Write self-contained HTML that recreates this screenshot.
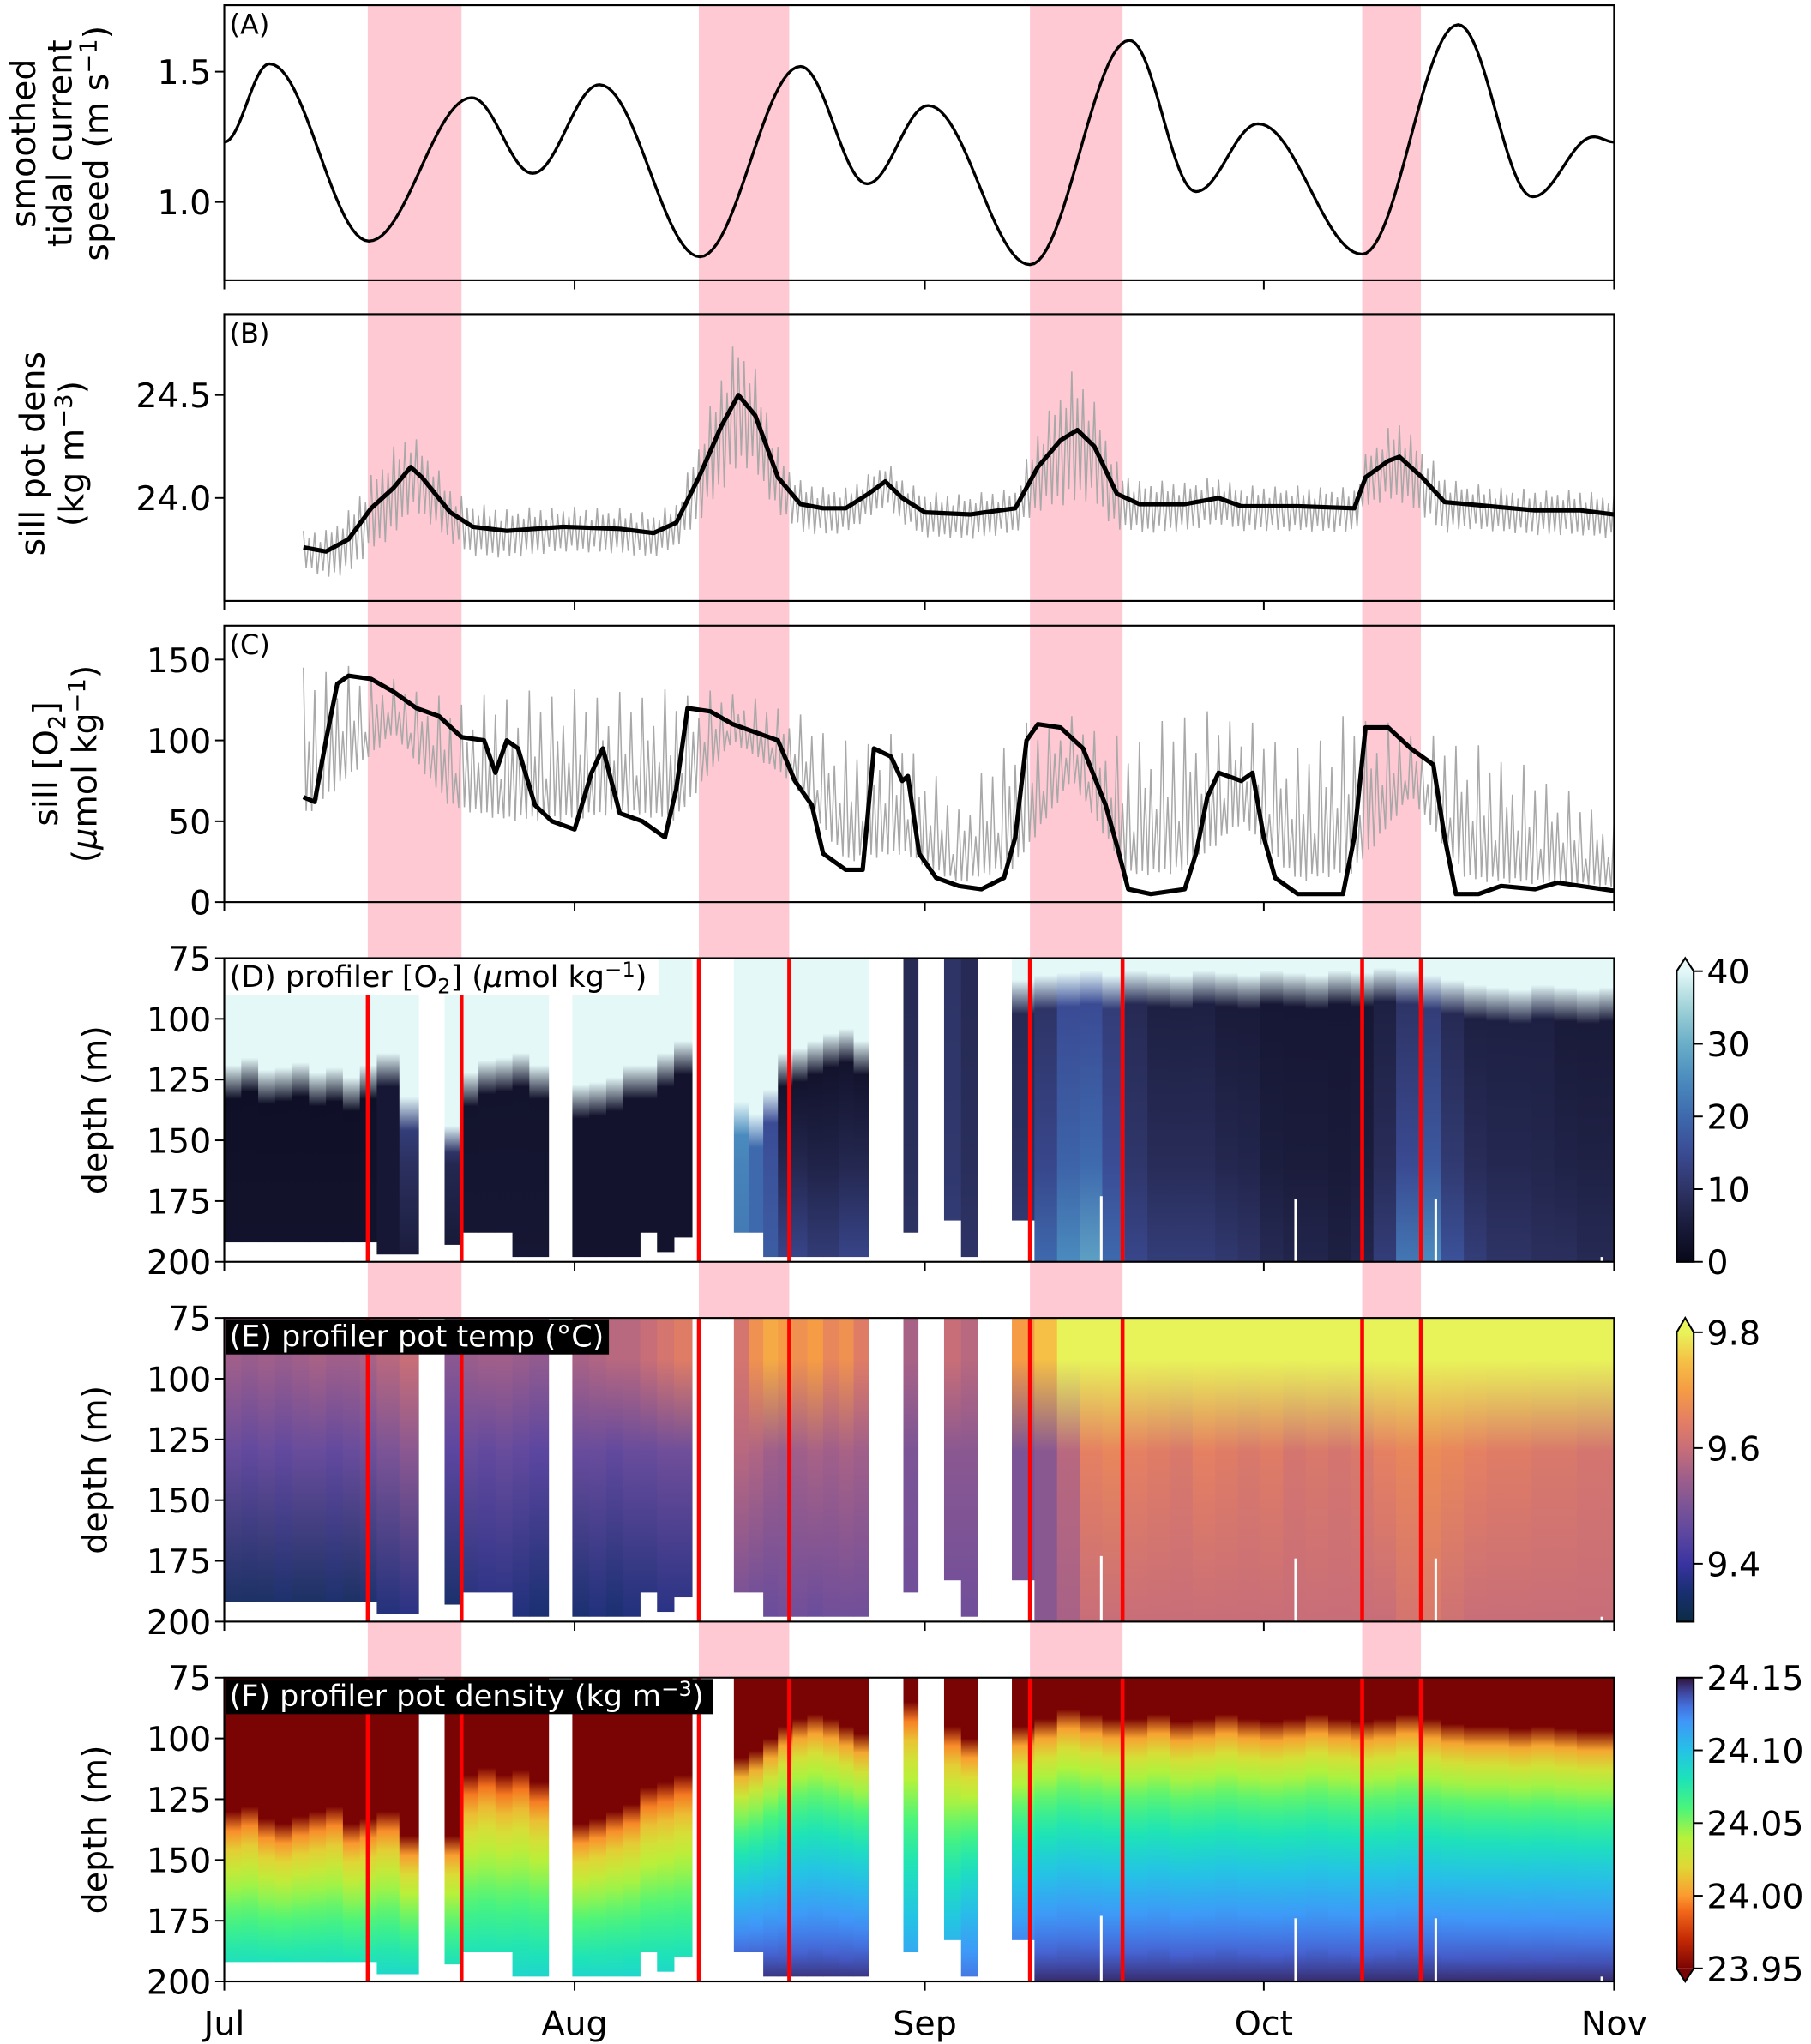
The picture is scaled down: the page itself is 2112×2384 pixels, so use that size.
<!DOCTYPE html>
<html><head><meta charset="utf-8"><style>
html,body{margin:0;padding:0;background:#fff}
svg{display:block}
text{font-family:"DejaVu Sans","Liberation Sans",sans-serif;fill:#000}
</style></head><body>
<svg id="fig" width="2112" height="2384" viewBox="0 0 1389 1568" preserveAspectRatio="none" xmlns="http://www.w3.org/2000/svg">
<defs id="defs"></defs>
<g id="root"></g>
</svg>
<script>
// ---------- DATA ----------
const monthLabels = ["Jul","Aug","Sep","Oct","Nov"];
const monthDays = [0,31,62,92,123];
const bandStart = [12.7,42.0,71.3,100.7];
const bandEnd = [21.0,50.0,79.5,105.9];
// Panel A extrema
const aDays = [0,4,12.8,21.9,27.3,33.2,42.1,51,56.9,62.3,71.3,80.1,86,91.5,100.7,109.2,115.8,121.2,123];
const aVals = [1.23,1.53,0.85,1.40,1.11,1.45,0.79,1.52,1.07,1.37,0.76,1.62,1.04,1.30,0.80,1.68,1.02,1.25,1.23];
// Panel B
const bDays = [7,9,11,13,15,16.5,17.5,20,22,25,30,35,38,40,42,44,45.5,47,49,51,53,55,57,58.5,60,62,66,70,72,74,75.5,77,79,81,85,88,90,95,100,101,103,104,106,108,112,116,120,123];
const bVals = [23.76,23.74,23.80,23.95,24.05,24.15,24.10,23.93,23.86,23.84,23.86,23.85,23.83,23.88,24.10,24.35,24.50,24.40,24.10,23.97,23.95,23.95,24.02,24.08,24.00,23.93,23.92,23.95,24.15,24.28,24.33,24.25,24.02,23.97,23.97,24.00,23.96,23.96,23.95,24.10,24.18,24.20,24.10,23.98,23.96,23.94,23.94,23.92];
const bAmpDays = [7,15,20,30,40,45,50,55,60,70,75,80,90,100,104,110,123];
const bAmp = [0.08,0.2,0.12,0.1,0.1,0.3,0.12,0.1,0.1,0.1,0.3,0.12,0.1,0.1,0.18,0.1,0.1];
// Panel C
const cDays = [7,8,9,10,11,13,15,17,19,21,23,24,25,26,27.5,29,31,32.5,33.5,35,37,39,40,41,43,45,47,49,50.5,52,53,55,56.5,57.5,59,60,60.5,61.5,63,65,67,69,70,71,72,74,76,78,79,80,82,85,86,87,88,90,91,92,93,95,99,100,101,103,105,107,108,109,111,113,116,118,123];
const cVals = [65,62,100,135,140,138,130,120,115,102,100,80,100,95,60,50,45,80,95,55,50,40,70,120,118,110,105,100,75,60,30,20,20,95,90,75,78,30,15,10,8,15,40,100,110,108,95,60,35,8,5,8,30,65,80,75,80,40,15,5,5,40,108,108,95,85,40,5,5,10,8,12,7];
const cGrayDays = [7,10,15,20,25,30,35,40,45,50,55,60,65,70,75,80,85,90,95,100,105,110,115,120,123];
const cGrayHi = [145,148,138,125,130,132,130,132,130,120,100,105,60,110,115,100,120,115,95,120,105,100,85,65,50];
const cGrayLo = [40,60,100,50,40,40,45,40,95,70,15,20,5,10,70,5,5,40,2,5,60,2,2,3,3];
// Profiler columns
const colStart = [0,1.5,3,4.5,6,7.5,9,10.5,12,13.5,15.5, 19.5,21,22.5,24,25.5,27, 30.8,32.3,33.8,35.3,36.8,38.3,39.8, 45.1,46.4,47.7,49,50.3,51.6,53,54.4,55.7, 60.1, 63.7,65.2, 69.7,71.7,73.7,75.7,77.7,79.7,81.7,83.7,85.7,87.7,89.7,91.7,93.7,95.7,97.7,99.7,101.7,103.7,105.7,107.7,109.7,111.7,113.7,115.7,117.7,119.7,121.7];
const colEnd = [1.5,3,4.5,6,7.5,9,10.5,12,13.5,15.5,17.2, 21,22.5,24,25.5,27,28.7, 32.3,33.8,35.3,36.8,38.3,39.8,41.4, 46.4,47.7,49,50.3,51.6,53,54.4,55.7,57, 61.4, 65.2,66.7, 71.7,73.7,75.7,77.7,79.7,81.7,83.7,85.7,87.7,89.7,91.7,93.7,95.7,97.7,99.7,101.7,103.7,105.7,107.7,109.7,111.7,113.7,115.7,117.7,119.7,121.7,123];
const colBottom = [192,192,192,192,192,192,192,192,192,197,197, 193,188,188,188,198,198, 198,198,198,198,188,196,190, 188,188,198,198,198,198,198,198,198, 188, 183,198, 183,200,200,200,200,200,200,200,200,200,200,200,200,200,200,200,200,200,200,200,200,200,200,200,200,200,200];
const o2Cline = [125,122,127,126,124,128,126,130,125,120,138, 150,128,123,122,120,125, 133,132,130,125,125,120,115, 140,145,135,120,118,115,112,110,115, 75, 75,75, 90,88,87,86,88,86,87,88,86,87,88,86,87,88,86,87,85,86,88,90,92,93,94,92,93,94,93];
const o2Mid = [2,2,2,2,2,2,2,2,2,4,12, 10,3,3,3,3,3, 3,3,3,3,3,3,3, 25,20,15,3,3,3,3,3,3, 8, 10,8, 8,10,15,15,12,8,6,6,6,5,5,4,4,4,4,4,6,10,12,8,6,6,6,6,5,5,5];
const o2Deep = [3,3,3,3,3,3,3,3,3,4,5, 4,4,4,4,4,4, 3,3,3,3,3,3,3, 22,20,18,14,14,12,12,14,14, 10, 12,10, 12,20,25,28,20,14,12,12,12,11,10,8,7,7,6,7,12,22,25,16,12,10,10,9,9,8,8];
const tTop = [9.55,9.54,9.55,9.54,9.55,9.56,9.55,9.55,9.56,9.58,9.6, 9.52,9.54,9.55,9.55,9.54,9.53, 9.56,9.57,9.58,9.58,9.6,9.62,9.64, 9.62,9.68,9.72,9.7,9.68,9.7,9.66,9.68,9.64, 9.56, 9.6,9.58, 9.7,9.75,9.8,9.85,9.85,9.85,9.85,9.85,9.85,9.85,9.85,9.85,9.85,9.85,9.85,9.85,9.85,9.82,9.8,9.85,9.85,9.85,9.85,9.85,9.85,9.85,9.85];
const tMid = [9.47,9.46,9.47,9.46,9.47,9.47,9.46,9.47,9.48,9.5,9.52, 9.45,9.47,9.46,9.47,9.46,9.45, 9.47,9.47,9.46,9.47,9.47,9.48,9.48, 9.58,9.57,9.55,9.54,9.55,9.56,9.55,9.56,9.55, 9.5, 9.52,9.52, 9.5,9.52,9.58,9.65,9.66,9.65,9.64,9.63,9.65,9.64,9.63,9.64,9.62,9.63,9.62,9.63,9.65,9.66,9.67,9.66,9.65,9.64,9.64,9.63,9.63,9.62,9.62];
const tBot = [9.33,9.33,9.33,9.34,9.33,9.33,9.34,9.33,9.34,9.36,9.37, 9.34,9.36,9.37,9.37,9.36,9.35, 9.35,9.36,9.35,9.36,9.36,9.37,9.37, 9.48,9.47,9.47,9.48,9.48,9.47,9.48,9.48,9.48, 9.48, 9.48,9.48, 9.5,9.52,9.56,9.6,9.6,9.6,9.6,9.6,9.6,9.6,9.6,9.6,9.6,9.6,9.6,9.6,9.6,9.62,9.63,9.61,9.6,9.6,9.6,9.6,9.6,9.6,9.6];
const dCline = [130,128,133,135,132,130,128,135,133,130,140, 140,115,112,115,113,118, 135,133,130,127,120,118,115, 108,105,100,95,92,90,92,95,98, 85, 95,100, 95,92,88,90,92,92,90,93,92,90,92,93,92,90,92,93,92,90,92,94,95,95,96,95,96,97,97];
const dBot = [24.09,24.09,24.09,24.09,24.09,24.09,24.09,24.09,24.09,24.09,24.09, 24.09,24.09,24.09,24.09,24.09,24.09, 24.09,24.09,24.09,24.09,24.09,24.09,24.09, 24.145,24.145,24.145,24.145,24.145,24.145,24.145,24.145,24.145, 24.12, 24.12,24.13, 24.14,24.145,24.145,24.145,24.145,24.145,24.145,24.145,24.145,24.145,24.145,24.145,24.145,24.145,24.145,24.145,24.145,24.145,24.145,24.145,24.145,24.145,24.145,24.145,24.145,24.145,24.145];
const streakDays = [77.5,94.7,107.1,121.8];
const streakTop = [173,174,174,198];
const o2Ticks = [0,10,20,30,40];
const tTicks = [9.4,9.6,9.8];
const dTicks = [23.95,24.00,24.05,24.10,24.15];
const depthTicks = [75,100,125,150,175,200];

// ---------- HELPERS ----------
const NS="http://www.w3.org/2000/svg";
const root=document.getElementById('root'), defs=document.getElementById('defs');
function mk(tag,attrs,parent){const e=document.createElementNS(NS,tag);for(const k in attrs)e.setAttribute(k,attrs[k]);(parent||root).appendChild(e);return e;}
const X0=172,X1=1238;
const FS=26;
function xd(d){return X0+d*(X1-X0)/123;}
const pA={t:4,b:215}, pB={t:241,b:461}, pC={t:480,b:692};
const pD={t:735,b:968}, pE={t:1011,b:1244}, pF={t:1287,b:1520};
function yA(v){return 155-(v-1.0)*200;}
function yB(v){return 382-(v-24)*158;}
function yC(v){return 692-v*1.24;}
function yDep(p,d){return p.t+(d-75)*(p.b-p.t)/125;}
function lin(xs,ys,x){if(x<=xs[0])return ys[0];for(let i=1;i<xs.length;i++){if(x<=xs[i]){const f=(x-xs[i-1])/(xs[i]-xs[i-1]);return ys[i-1]+f*(ys[i]-ys[i-1]);}}return ys[ys.length-1];}
function hex(c){return [parseInt(c.slice(1,3),16),parseInt(c.slice(3,5),16),parseInt(c.slice(5,7),16)];}
function cmap(stops,v){if(v<=stops[0][0])return stops[0][1];const n=stops.length;if(v>=stops[n-1][0])return stops[n-1][1];
 for(let i=1;i<n;i++){if(v<=stops[i][0]){const f=(v-stops[i-1][0])/(stops[i][0]-stops[i-1][0]);const a=hex(stops[i-1][1]),b=hex(stops[i][1]);
 return 'rgb('+a.map((q,j)=>Math.round(q+f*(b[j]-q))).join(',')+')';}}}
const ICE=[[0,'#08081a'],[5,'#1a1b3a'],[10,'#2e3466'],[15,'#3a4b94'],[20,'#3e69ad'],[25,'#4a8bbe'],[30,'#6aaec8'],[35,'#a0d2d8'],[40,'#e4f8f8']];
const THERM=[[9.3,'#0b2c44'],[9.35,'#182f70'],[9.4,'#3a33a0'],[9.45,'#5c46a0'],[9.5,'#7b5496'],[9.55,'#a05f8a'],[9.6,'#c86e78'],[9.65,'#e58062'],[9.7,'#f59c45'],[9.75,'#f5c045'],[9.8,'#e8f35a']];
const TURBO=[[23.95,'#7a0403'],[23.97,'#c52a04'],[23.99,'#f36a1b'],[24.0,'#fb9a30'],[24.02,'#e0d836'],[24.04,'#b5f23a'],[24.06,'#4cf57a'],[24.08,'#1de3b8'],[24.10,'#25c2e6'],[24.12,'#4096f9'],[24.135,'#4660d0'],[24.15,'#30123b']];

let gid=0;
function gradient(p,pts,cm){const id='g'+(gid++);const g=mk('linearGradient',{id:id,gradientUnits:'userSpaceOnUse',x1:0,x2:0,y1:p.t,y2:p.b},defs);
 pts.forEach(q=>{mk('stop',{offset:Math.max(0,Math.min(1,(q[0]-75)/125)),'stop-color':cmap(cm,q[1])},g);});return 'url(#'+id+')';}

// ---------- PINK BANDS ----------
for(let i=0;i<bandStart.length;i++){
 const r=mk('rect',{x:xd(bandStart[i]),y:4,width:xd(bandEnd[i])-xd(bandStart[i]),height:1283,fill:'#ffc9d3'});
 
 
}
[pD,pE,pF].forEach(p=>mk('rect',{x:X0,y:p.t,width:X1-X0,height:p.b-p.t,fill:'#fff'}));

// ---------- PANEL A ----------
(function(){
 let d='';let first=true;
 for(let i=1;i<aDays.length;i++){const n=24;for(let k=(i===1?0:1);k<=n;k++){const f=k/n;const e=(1-Math.cos(Math.PI*f))/2;
  const dd=aDays[i-1]+f*(aDays[i]-aDays[i-1]);const v=aVals[i-1]+e*(aVals[i]-aVals[i-1]);
  d+=(first?'M':'L')+xd(dd).toFixed(2)+' '+yA(v).toFixed(2);first=false;}}
 const p=mk('path',{d:d,fill:'none',stroke:'#000','stroke-width':2.2});
 
 
})();

// ---------- PANEL B ----------
const PAT=[1,0.55,0.85,0.4,0.95,0.65,0.75,0.5];
(function(){
 let d='';let k=0;
 for(let dd=bDays[0];dd<=123;dd+=0.25){const m=lin(bDays,bVals,dd);const a=lin(bAmpDays,bAmp,dd);
  const v=(k%2===0)?m+a*PAT[(k/2)%8]:m-a*1.2*PAT[(k*3+1)%8];
  d+=(k===0?'M':'L')+xd(dd).toFixed(2)+' '+yB(v).toFixed(2);k++;}
 const g=mk('path',{d:d,fill:'none',stroke:'#a8a8a8','stroke-width':1});
 
 
 const pts=bDays.map((dd,i)=>xd(dd).toFixed(2)+','+yB(bVals[i]).toFixed(2)).join(' ');
 const l=mk('polyline',{points:pts,fill:'none',stroke:'#000','stroke-width':3.4,'stroke-linejoin':'round'});
 
 
})();

// ---------- PANEL C ----------
(function(){
 let d='';let k=0;
 for(let dd=cDays[0];dd<=123;dd+=0.25){const hi=lin(cGrayDays,cGrayHi,dd), lo=lin(cGrayDays,cGrayLo,dd);
  const v=(k%2===0)?lo+(hi-lo)*PAT[(k/2)%8]:lo+(hi-lo)*0.15*PAT[(k+3)%8];
  d+=(k===0?'M':'L')+xd(dd).toFixed(2)+' '+yC(v).toFixed(2);k++;}
 const g=mk('path',{d:d,fill:'none',stroke:'#a8a8a8','stroke-width':1});
 
 
 const pts=cDays.map((dd,i)=>xd(dd).toFixed(2)+','+yC(cVals[i]).toFixed(2)).join(' ');
 const l=mk('polyline',{points:pts,fill:'none',stroke:'#000','stroke-width':3.4,'stroke-linejoin':'round'});
 
 
})();

// ---------- HEATMAPS ----------
for(let i=0;i<colStart.length;i++){
 const x=xd(colStart[i]), w=xd(colEnd[i])-x+0.3;
 let pts=[];const cl=o2Cline[i];
 if(cl>80){pts.push([75,40],[cl-6,40]);}
 pts.push([Math.min(cl+8,155),o2Mid[i]],[160,o2Mid[i]+(o2Deep[i]-o2Mid[i])*0.4],[200,o2Deep[i]]);
 const rd=mk('rect',{x:x,y:pD.t,width:w,height:yDep(pD,colBottom[i])-pD.t,fill:gradient(pD,pts,ICE)});
 
 
 const pe=[[75,tTop[i]],[92,tTop[i]],[130,tMid[i]],[200,tBot[i]]];
 const re=mk('rect',{x:x,y:pE.t,width:w,height:yDep(pE,colBottom[i])-pE.t,fill:gradient(pE,pe,THERM)});
 
 
 const c=dCline[i];const pf=[[75,23.93],[c,23.95]];
 for(let dd=c+8;dd<200;dd+=8)pf.push([dd,23.95+(dBot[i]-23.95)*Math.sqrt((dd-c)/(200-c))]);
 pf.push([200,dBot[i]]);
 const rf=mk('rect',{x:x,y:pF.t,width:w,height:yDep(pF,colBottom[i])-pF.t,fill:gradient(pF,pf,TURBO)});
 
 
}
[pD,pE,pF].forEach(p=>{
 for(let i=0;i<streakDays.length;i++){mk('rect',{x:xd(streakDays[i]),y:yDep(p,streakTop[i]),width:2,height:p.b-yDep(p,streakTop[i]),fill:'#fff'});}
 [...bandStart,...bandEnd].forEach(d=>{
  const l=mk('line',{x1:xd(d),x2:xd(d),y1:p.t,y2:p.b,stroke:'#ff0000','stroke-width':3});
  
  
 });
});

// ---------- AXES ----------
function frame(p,name){const r=mk('rect',{x:X0,y:p.t,width:X1-X0,height:p.b-p.t,fill:'none',stroke:'#000','stroke-width':1.4});
 
 
 monthDays.forEach(d=>mk('line',{x1:xd(d),x2:xd(d),y1:p.b,y2:p.b+7,stroke:'#000','stroke-width':1.3}));}
function yticks(p,vals,fy,fmt){vals.forEach(v=>{const y=fy(v);mk('line',{x1:X0-7,x2:X0,y1:y,y2:y,stroke:'#000','stroke-width':1.3});
 const t=mk('text',{x:X0-10,y:y+9.5,'text-anchor':'end','font-size':FS});t.textContent=fmt(v);
 
 });}
frame(pA,'panel-a-axes');frame(pB,'panel-b-axes');frame(pC,'panel-c-axes');frame(pD,'panel-d-axes');frame(pE,'panel-e-axes');frame(pF,'panel-f-axes');
yticks(pA,[1.0,1.5],yA,v=>v.toFixed(1));
yticks(pB,[24.0,24.5],yB,v=>v.toFixed(1));
yticks(pC,[0,50,100,150],yC,v=>String(v));
[pD,pE,pF].forEach(p=>yticks(p,depthTicks,v=>yDep(p,v),v=>String(v)));
monthLabels.forEach((m,i)=>{const t=mk('text',{x:xd(monthDays[i]),y:1561,'text-anchor':'middle','font-size':FS});t.textContent=m;
 
 });

// ---------- COLORBARS ----------
function colorbar(name,cm,vmin,vmax,top,bot,tipTop,tipBot,ticks,fmt){
 const id='cb'+name;const g=mk('linearGradient',{id:id,x1:0,x2:0,y1:1,y2:0},defs);
 for(let k=0;k<=20;k++){const v=vmin+(vmax-vmin)*k/20;mk('stop',{offset:k/20,'stop-color':cmap(cm,v)},g);}
 const L=1286,R=1299,M=(L+R)/2;
 let d='M'+L+' '+top;
 if(tipTop!==null)d+=' L'+M+' '+tipTop+' L'+R+' '+top;else d+=' L'+R+' '+top;
 d+=' L'+R+' '+bot;
 if(tipBot!==null)d+=' L'+M+' '+tipBot+' L'+L+' '+bot;else d+=' L'+L+' '+bot;
 d+=' Z';
 mk('rect',{x:L,y:top,width:R-L,height:bot-top,fill:'url(#'+id+')'});
 if(tipTop!==null)mk('path',{d:'M'+L+' '+top+' L'+M+' '+tipTop+' L'+R+' '+top+' Z',fill:cmap(cm,vmax)});
 if(tipBot!==null)mk('path',{d:'M'+L+' '+bot+' L'+M+' '+tipBot+' L'+R+' '+bot+' Z',fill:cmap(cm,vmin)});
 const o=mk('path',{d:d,fill:'none',stroke:'#000','stroke-width':1.4});
 
 
 ticks.forEach(v=>{const y=bot-(v-vmin)/(vmax-vmin)*(bot-top);mk('line',{x1:R,x2:R+7,y1:y,y2:y,stroke:'#000','stroke-width':1.3});
  const t=mk('text',{x:R+10,y:y+9.5,'font-size':FS});t.textContent=fmt(v);
  
  });
}
colorbar('oxygen',ICE,0,40,745,968,735,null,o2Ticks,v=>String(v));
colorbar('temperature',THERM,9.3,9.8,1022,1244,1011,null,tTicks,v=>v.toFixed(1));
colorbar('density',TURBO,23.95,24.15,1287,1510,null,1520,dTicks,v=>v.toFixed(2));

// ---------- LABELS ----------
function rot(lines,cx,cy,name){lines.forEach((s,i)=>{const t=mk('text',{x:0,y:0,'text-anchor':'middle','font-size':FS,transform:'translate('+s[0]+','+cy+') rotate(-90)'});t.innerHTML=s[1];
 
 });}
rot([[27,'smoothed'],[55,'tidal current'],[83,'speed (m s<tspan dy="-9" font-size="18">−1</tspan><tspan dy="9">)</tspan>']],0,110,'y-axis-title-a');
rot([[34,'sill pot dens'],[64,'(kg m<tspan dy="-9" font-size="18">−3</tspan><tspan dy="9">)</tspan>']],0,348,'y-axis-title-b');
rot([[44,'sill [O<tspan dy="6" font-size="18">2</tspan><tspan dy="-6">]</tspan>'],[74,'(<tspan font-style="italic">μ</tspan>mol kg<tspan dy="-9" font-size="18">−1</tspan><tspan dy="9">)</tspan>']],0,586,'y-axis-title-c');
[pD,pE,pF].forEach(p=>rot([[82,'depth (m)']],0,(p.t+p.b)/2,'y-axis-title-depth'));
[['(A)',pA],['(B)',pB],['(C)',pC]].forEach(a=>{const t=mk('text',{x:176,y:a[1].t+22,'font-size':21});t.textContent=a[0];
 
 });
function boxLabel(p,w,bg,fg,html){const r=mk('rect',{x:X0+1,y:p.t+1,width:w,height:27,fill:bg});
 const t=mk('text',{x:176,y:p.t+22,'font-size':23,fill:fg});t.setAttribute('style','fill:'+fg);t.innerHTML=html;
 
 }
boxLabel(pD,332,'#ffffff','#000','(D) profiler [O<tspan dy="5" font-size="16">2</tspan><tspan dy="-5">] (</tspan><tspan font-style="italic">μ</tspan>mol kg<tspan dy="-8" font-size="16">−1</tspan><tspan dy="8">)</tspan>');
boxLabel(pE,294,'#000000','#fff','(E) profiler pot temp (°C)');
boxLabel(pF,374,'#000000','#fff','(F) profiler pot density (kg m<tspan dy="-8" font-size="16">−3</tspan><tspan dy="8">)</tspan>');
</script>
</body></html>
